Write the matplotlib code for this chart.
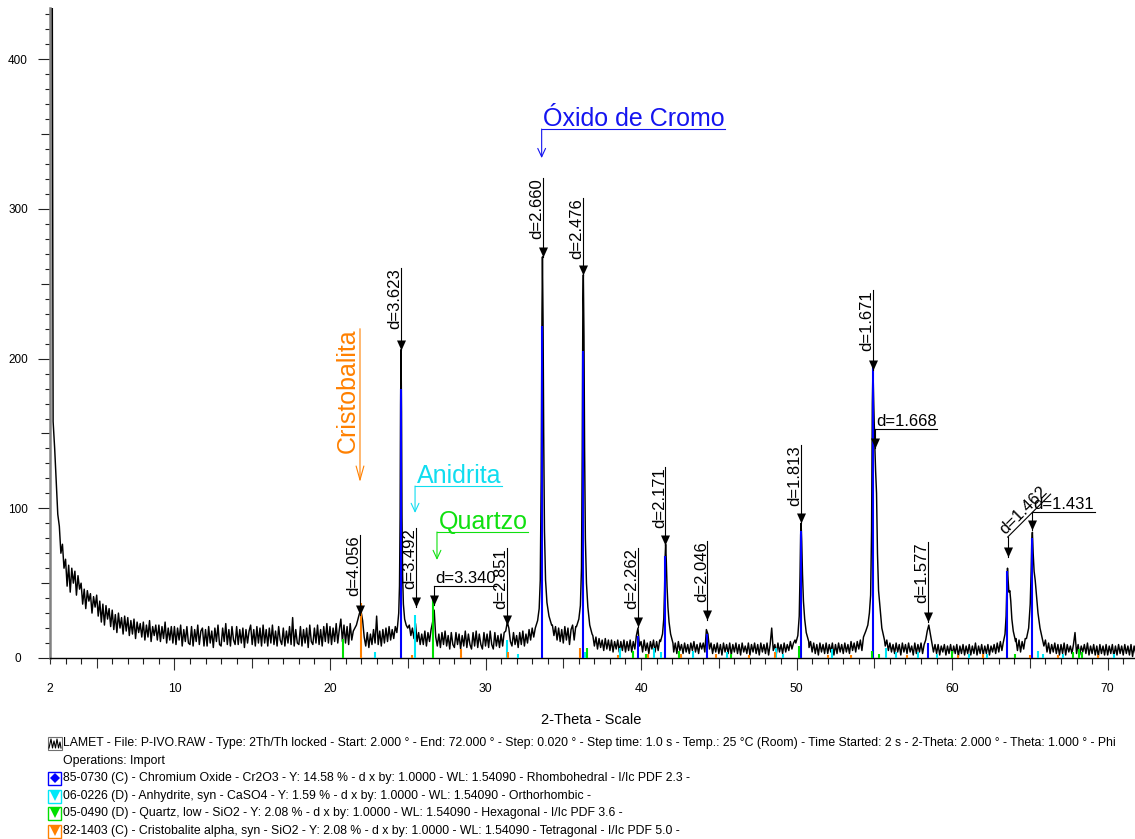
import numpy as np
import matplotlib
matplotlib.use('Agg')
import matplotlib.pyplot as plt
from matplotlib.patches import Rectangle
from matplotlib.lines import Line2D
from matplotlib.font_manager import FontProperties

plt.rcParams['font.family'] = ['Liberation Sans', 'DejaVu Sans']

W, H = 1135, 839

# ---------------- data ----------------
scan_start = 2.0
scan_step = 0.1
scan_counts = [
    1200, 700, 158, 140, 118, 96, 88, 70, 76, 60,
    66, 48, 62, 44, 60, 50, 58, 42, 55, 46,
    50, 36, 46, 33, 45, 38, 43, 30, 41, 34,
    42, 28, 38, 24, 36, 22, 35, 26, 33, 21,
    32, 19, 29, 17, 30, 20, 27, 16, 28, 18,
    27, 15, 25, 16, 26, 13, 24, 17, 23, 14,
    24, 12, 22, 14, 25, 11, 21, 15, 22, 12,
    22, 11, 21, 13, 24, 10, 20, 12, 21, 10,
    21, 9, 20, 12, 22, 8, 19, 11, 21, 10,
    9, 21, 8, 19, 11, 22, 9, 18, 20, 8,
    19, 8, 21, 10, 18, 7, 20, 11, 22, 9,
    8, 20, 11, 23, 9, 19, 8, 21, 12, 9,
    21, 9, 19, 10, 20, 7, 19, 10, 18, 22,
    9, 19, 8, 21, 10, 20, 8, 22, 10, 19,
    8, 20, 10, 22, 9, 18, 8, 21, 12, 9,
    20, 8, 18, 10, 21, 9, 27, 8, 19, 10,
    9, 21, 8, 19, 10, 20, 7, 22, 11, 9,
    20, 10, 22, 9, 19, 8, 21, 11, 23, 10,
    21, 9, 20, 11, 23, 10, 19, 26, 11, 22,
    10, 21, 9, 23, 12, 18, 20, 22, 26, 30,
    31, 25, 14, 8, 17, 7, 16, 9, 19, 10,
    28, 9, 18, 8, 19, 10, 20, 11, 21, 12,
    19, 13, 21, 17, 40, 60, 150, 40, 30, 25,
    20, 22, 15, 20, 13, 23, 11, 17, 9, 16,
    9, 18, 8, 17, 11, 19, 24, 32, 14, 8,
    16, 7, 17, 9, 18, 8, 15, 6, 17, 9,
    7, 17, 9, 16, 6, 15, 8, 18, 7, 16,
    9, 6, 17, 8, 18, 7, 16, 9, 6, 17,
    8, 16, 7, 18, 9, 6, 17, 8, 15, 7,
    16, 8, 17, 18, 24, 20, 11, 8, 17, 9,
    15, 7, 17, 9, 18, 8, 16, 10, 19, 12,
    20, 14, 16, 20, 22, 26, 270, 60, 30, 25,
    30, 25, 22, 22, 15, 21, 12, 20, 11, 19,
    10, 21, 12, 20, 9, 19, 22, 12, 21, 19,
    22, 27, 40, 256, 60, 28, 18, 15, 12, 15,
    8, 14, 6, 13, 7, 12, 5, 13, 6, 12,
    5, 12, 4, 11, 6, 12, 4, 11, 5, 12,
    4, 11, 5, 12, 4, 11, 6, 15, 20, 8,
    11, 4, 12, 5, 10, 3, 11, 6, 12, 4,
    11, 5, 12, 20, 30, 76, 30, 18, 12, 10,
    9, 4, 10, 3, 11, 5, 9, 3, 10, 4,
    9, 3, 10, 5, 11, 4, 9, 3, 10, 6,
    10, 4, 19, 16, 6, 10, 3, 9, 4, 10,
    3, 9, 2, 10, 4, 9, 3, 10, 2, 9,
    4, 10, 3, 9, 2, 10, 4, 8, 3, 10,
    2, 9, 4, 10, 3, 9, 2, 10, 4, 9,
    3, 10, 2, 9, 20, 5, 9, 3, 10, 4,
    9, 3, 10, 4, 9, 5, 11, 6, 10, 12,
    9, 12, 60, 92, 50, 22, 14, 11, 7, 11,
    4, 10, 3, 9, 2, 10, 4, 9, 3, 10,
    3, 9, 4, 10, 2, 9, 3, 10, 4, 9,
    3, 10, 4, 9, 3, 11, 5, 10, 4, 11,
    6, 12, 5, 13, 15, 18, 22, 30, 90, 190,
    142, 60, 35, 25, 18, 14, 12, 8, 12, 5,
    10, 4, 9, 3, 10, 4, 9, 2, 10, 4,
    9, 3, 10, 4, 8, 2, 10, 3, 9, 4,
    10, 3, 9, 12, 18, 22, 16, 10, 4, 9,
    3, 9, 2, 8, 4, 9, 2, 8, 3, 9,
    2, 8, 3, 9, 1, 8, 3, 9, 2, 8,
    3, 9, 2, 8, 3, 10, 2, 8, 3, 9,
    2, 8, 3, 9, 2, 8, 4, 9, 3, 10,
    4, 11, 5, 10, 15, 35, 48, 42, 25, 18,
    12, 13, 5, 12, 4, 11, 6, 13, 8, 15,
    40, 82, 55, 48, 38, 25, 18, 14, 11, 8,
    12, 4, 10, 3, 9, 4, 10, 3, 9, 2,
    9, 3, 10, 2, 9, 4, 8, 3, 9, 17,
    3, 9, 2, 8, 4, 9, 3, 10, 2, 8,
    3, 9, 2, 8, 1, 9, 3, 8, 2, 9,
    2, 8, 3, 9, 1, 8, 2, 9, 3, 8,
    2, 9, 3, 8, 2, 9, 1, 8, 3, 7,
]

# finer profile points read across the main reflections
peak_theta = [
    [24.35, 24.42, 24.47, 24.51, 24.54, 24.57, 24.60, 24.63, 24.67, 24.72, 24.80, 24.90, 25.00],
    [33.20, 33.35, 33.45, 33.52, 33.58, 33.63, 33.66, 33.70, 33.74, 33.79, 33.86, 33.95, 34.08, 34.25],
    [35.85, 36.00, 36.10, 36.17, 36.22, 36.26, 36.29, 36.33, 36.37, 36.42, 36.49, 36.58, 36.70, 36.85],
    [41.25, 41.38, 41.46, 41.51, 41.55, 41.58, 41.62, 41.67, 41.73, 41.80, 41.90, 42.05],
    [49.95, 50.08, 50.17, 50.22, 50.26, 50.29, 50.33, 50.38, 50.44, 50.52, 50.62, 50.78],
    [54.30, 54.45, 54.58, 54.68, 54.76, 54.82, 54.87, 54.91, 54.96, 55.02, 55.08, 55.14, 55.20, 55.27, 55.36, 55.48, 55.65],
    [63.28, 63.40, 63.47, 63.52, 63.56, 63.60, 63.65, 63.71, 63.77, 63.84, 63.93, 64.08],
    [64.78, 64.92, 65.02, 65.08, 65.12, 65.16, 65.21, 65.27, 65.34, 65.42, 65.52, 65.65, 65.82],
]
peak_counts = [
    [22, 30, 48, 95, 170, 206, 165, 95, 55, 36, 26, 22, 20],
    [20, 25, 33, 52, 120, 230, 268, 225, 150, 85, 52, 37, 28, 22],
    [21, 26, 35, 60, 140, 240, 256, 215, 140, 80, 50, 34, 22, 16],
    [11, 16, 26, 45, 68, 76, 66, 48, 34, 24, 16, 10],
    [10, 15, 28, 55, 82, 90, 78, 56, 38, 26, 17, 11],
    [14, 18, 22, 30, 42, 85, 170, 194, 170, 145, 125, 110, 70, 45, 34, 20, 12],
    [10, 16, 28, 48, 60, 52, 44, 45, 38, 26, 18, 11],
    [13, 20, 36, 58, 78, 84, 70, 58, 52, 42, 30, 20, 12],
]

# reference patterns (stick lines)
cr2o3_theta = [24.55, 33.64, 36.25, 39.80, 41.55, 44.25, 50.27, 54.90, 58.45, 63.55, 65.15]
cr2o3_h = [180, 222, 205, 15, 68, 16, 85, 195, 10, 58, 80]
anhy_theta = [22.90, 25.45, 31.40, 32.10, 36.40, 38.65, 40.85, 41.30, 43.35, 45.50, 48.65,
              49.10, 52.30, 55.75, 56.40, 57.80, 59.00, 61.10, 62.25, 65.55, 65.85, 67.10, 70.40]
anhy_h = [4, 29, 12, 3, 4, 7, 7, 4, 5, 4, 7, 3, 6, 7, 4, 4, 3, 3, 3, 5, 3, 3, 3]
quartz_theta = [20.86, 26.64, 36.55, 39.47, 40.30, 42.45, 45.80, 50.14, 54.87, 55.33,
                59.96, 64.03, 67.74, 68.14, 68.32]
quartz_h = [13, 39, 7, 5, 3, 5, 3, 8, 5, 3, 5, 3, 4, 6, 4]
cristo_theta = [22.00, 25.30, 28.45, 31.45, 36.08, 38.50, 40.45, 42.60, 44.80, 46.95, 48.60,
                52.00, 53.50, 57.10, 60.40, 62.00, 65.00, 66.80, 69.40]
cristo_h = [37, 2, 6, 4, 7, 2, 3, 3, 3, 2, 4, 2, 2, 2, 2, 3, 2, 2, 2]

# d-spacing labels
d_labels = ['d=4.056', 'd=3.623', 'd=3.492', 'd=3.340', 'd=2.851', 'd=2.660', 'd=2.476',
            'd=2.262', 'd=2.171', 'd=2.046', 'd=1.813', 'd=1.671', 'd=1.668', 'd=1.577',
            'd=1.462', 'd=1.431']
d_theta = [21.95, 24.57, 25.52, 26.67, 31.40, 33.67, 36.25, 39.81, 41.57, 44.27, 50.28,
           54.90, 55.02, 58.47, 63.57, 65.13]
d_tip = [28.7, 206.0, 34.1, 35.4, 22.0, 268.0, 256.0, 20.7, 75.5, 25.4, 90.2, 192.4,
         140.3, 24.1, 67.5, 85.5]
d_top = [82.2, 260.6, 86.9, 48.1, 73.5, 320.7, 307.3, 73.5, 127.6, 78.2, 142.3, 245.9,
         153.0, 77.5, 80.8, 97.5]
d_style = ['v', 'v', 'v', 'h', 'v', 'v', 'v', 'v', 'v', 'v', 'v', 'v', 'h', 'v', 'd', 'h']

# phase names
phase_names = ['Óxido de Cromo', 'Cristobalita', 'Anidrita', 'Quartzo']
phase_theta = [33.61, 21.93, 25.47, 26.88]
phase_top = [353.4, 220.0, 114.9, 84.2]
phase_tip = [334.0, 117.6, 96.9, 65.5]
phase_rot = [0, 90, 0, 0]
phase_colors = ['#1414F0', '#FF8000', '#10DDF0', '#10E010']

legend_lines = [
    'LAMET - File: P-IVO.RAW - Type: 2Th/Th locked - Start: 2.000 ° - End: 72.000 ° - Step: 0.020 ° - Step time: 1.0 s - Temp.: 25 °C (Room) - Time Started: 2 s - 2-Theta: 2.000 ° - Theta: 1.000 ° - Phi',
    'Operations: Import',
    '85-0730 (C) - Chromium Oxide - Cr2O3 - Y: 14.58 % - d x by: 1.0000 - WL: 1.54090 - Rhombohedral - I/Ic PDF 2.3 -',
    '06-0226 (D) - Anhydrite, syn - CaSO4 - Y: 1.59 % - d x by: 1.0000 - WL: 1.54090 - Orthorhombic -',
    '05-0490 (D) - Quartz, low - SiO2 - Y: 2.08 % - d x by: 1.0000 - WL: 1.54090 - Hexagonal - I/Ic PDF 3.6 -',
    '82-1403 (C) - Cristobalite alpha, syn - SiO2 - Y: 2.08 % - d x by: 1.0000 - WL: 1.54090 - Tetragonal - I/Ic PDF 5.0 -',
]

# ---------------- figure ----------------
PT = 0.72  # points per pixel at 100 dpi
fig = plt.figure(figsize=(W / 100, H / 100), dpi=100)
fig.patch.set_facecolor('white')
ax = fig.add_axes([50 / W, 1 - 658 / H, (W - 50) / W, (658 - 8) / H])

# merge scan with fine profiles
bg_theta = scan_start + scan_step * np.arange(len(scan_counts))
bg_counts = np.array(scan_counts, dtype=float)
keep = np.ones(len(bg_theta), dtype=bool)
for th in peak_theta:
    keep &= ~((bg_theta >= th[0] - 1e-6) & (bg_theta <= th[-1] + 1e-6))
all_theta = np.concatenate([bg_theta[keep]] + [np.array(t) for t in peak_theta])
all_counts = np.concatenate([bg_counts[keep]] + [np.array(c, dtype=float) for c in peak_counts])
order = np.argsort(all_theta)
ax.plot(all_theta[order], all_counts[order], color='black', lw=1.05, zorder=3)

# sticks
for th, hh, col in [(cr2o3_theta, cr2o3_h, '#0000FF'), (anhy_theta, anhy_h, '#00E8F8'),
                    (quartz_theta, quartz_h, '#00E000'), (cristo_theta, cristo_h, '#FF8000')]:
    ax.vlines(th, 0, hh, colors=col, lw=1.5, zorder=4)

# axes styling
for s in ['top', 'right']:
    ax.spines[s].set_visible(False)
ax.spines['left'].set_color('#808080')
ax.spines['left'].set_linewidth(1.8)
ax.spines['bottom'].set_color('black')
ax.spines['bottom'].set_linewidth(1.0)

xmaj = [2] + [v for v in range(5, 71, 5)]
ax.set_xticks(xmaj)
ax.set_xticklabels([str(v) if (v == 2 or v % 10 == 0) else '' for v in xmaj])
ax.set_xticks([v for v in range(3, 72) if v not in xmaj], minor=True)
ax.tick_params(axis='x', which='major', length=12 * PT, width=0.8, color='#303030', pad=9,
               labelsize=8.7, direction='out')
ax.tick_params(axis='x', which='minor', length=5.5 * PT, width=0.8, color='#202020',
               direction='out')

ymaj = list(range(0, 451, 50))
ax.set_yticks(ymaj)
ax.set_yticklabels([str(v) if v % 100 == 0 else '' for v in ymaj])
ax.set_yticks([v for v in range(10, 440, 10) if v % 50], minor=True)
ax.tick_params(axis='y', which='major', length=12 * PT, width=0.8, color='#202020',
               pad=20 * PT, labelsize=8.5, direction='out')
ax.tick_params(axis='y', which='minor', length=5.5 * PT, width=0.8, color='#202020',
               direction='out')

ax.set_xlim(2, 2 + (W - 50) / 15.554)
ax.set_ylim(0, 650 / 1.4968)

for t, v in zip(ax.xaxis.get_major_ticks(), xmaj):
    if v == 2:
        t.tick1line.set_markersize(5.5 * PT)
    elif v % 10:
        t.tick1line.set_markersize(10 * PT)
for t, v in zip(ax.yaxis.get_major_ticks(), ymaj):
    if v % 100:
        t.tick1line.set_markersize(9 * PT)
for lab in ax.get_yticklabels():
    lab.set_horizontalalignment('center')

fig.text(591 / W, 1 - 720 / H, '2-Theta - Scale', ha='center', va='center', fontsize=10.5)

# d-spacing labels
tri = [(0, 0), (-0.45, 1), (0.45, 1), (0, 0)]
renderer = fig.canvas.get_renderer()
fp12 = FontProperties(family=['Liberation Sans', 'DejaVu Sans'], size=12)
inv = ax.transData.inverted()
for lab, th, tip, top, sty in zip(d_labels, d_theta, d_tip, d_top, d_style):
    ax.plot([th], [tip], marker=tri, ms=14.4, mew=0, color='black', zorder=6)
    ax.plot([th, th], [top, tip], color='black', lw=0.8, zorder=6)
    if sty == 'v':
        ax.annotate(lab, xy=(th, top), xytext=(1, 0), textcoords='offset points',
                    rotation=90, ha='right', va='top', fontsize=12, zorder=7)
    elif sty == 'h':
        ax.annotate(lab, xy=(th, top), xytext=(1, 2), textcoords='offset points',
                    ha='left', va='baseline', fontsize=12, zorder=7)
        w, h_, d_ = renderer.get_text_width_height_descent(lab, fp12, ismath=False)
        x0, y0 = ax.transData.transform((th, top))
        xe = inv.transform((x0 + w + 2, y0))[0]
        ax.plot([th, xe], [top, top], color='black', lw=0.8, zorder=6)
    else:
        ax.annotate(lab, xy=(th, top), xytext=(-1.5, 1.5), textcoords='offset points',
                    rotation=45, rotation_mode='anchor', ha='left', va='baseline',
                    fontsize=12, zorder=7)
        w, h_, d_ = renderer.get_text_width_height_descent(lab, fp12, ismath=False)
        x0, y0 = ax.transData.transform((th, top))
        xe, ye = inv.transform((x0 + w * 0.7071, y0 + w * 0.7071))
        ax.plot([th, xe], [top, ye], color='black', lw=0.8, zorder=6)

# phase names
fp18 = FontProperties(family=['Liberation Sans', 'DejaVu Sans'], size=18)
for name, th, top, tip, rot, col in zip(phase_names, phase_theta, phase_top, phase_tip,
                                        phase_rot, phase_colors):
    if rot == 90:
        ax.annotate(name, xy=(th, top), rotation=90, ha='right', va='top', fontsize=18,
                    color=col, zorder=7)
        hl = 1.0
    else:
        ax.annotate(name, xy=(th, top), xytext=(1.2, 2.3), textcoords='offset points',
                    ha='left', va='baseline', fontsize=18, color=col, zorder=7)
        w, h_, d_ = renderer.get_text_width_height_descent(name, fp18, ismath=False)
        x0, y0 = ax.transData.transform((th, top))
        xe = inv.transform((x0 + w + 2, y0))[0]
        ax.plot([th, xe], [top, top], color=col, lw=0.8, zorder=6)
        hl = 0.6
    ax.annotate('', xy=(th, tip), xytext=(th, top),
                arrowprops=dict(arrowstyle='->,head_length=%g,head_width=0.28' % hl,
                                color=col, lw=0.8, shrinkA=0, shrinkB=0), zorder=6)

# legend block
def fx(p):
    return p / W

def fy(p):
    return 1 - p / H

legend_y = [743, 761, 778, 796, 813, 831]
for txt, y in zip(legend_lines, legend_y):
    fig.text(fx(63), fy(y), txt, ha='left', va='center', fontsize=8.85)

# scan icon
fig.add_artist(Rectangle((fx(48), fy(750)), 14 / W, 13 / H, transform=fig.transFigure,
                         facecolor='white', edgecolor='#707070', lw=0.8))
zz_x = [49, 51, 52.5, 54, 55.5, 57, 58.5, 60, 61]
zz_y = [748, 739, 748, 741, 748, 739, 748, 742, 748]
fig.add_artist(Line2D([fx(v) for v in zz_x], [fy(v) for v in zz_y], transform=fig.transFigure,
                      color='black', lw=0.8))

icon_cols = ['#0000FF', '#00E8F8', '#00E000', '#FF8000']
icon_marks = ['D', 'v', 'v', 'v']
for col, mk, y in zip(icon_cols, icon_marks, legend_y[2:]):
    fig.add_artist(Rectangle((fx(48), fy(y + 6.5)), 13 / W, 13 / H, transform=fig.transFigure,
                             facecolor='white', edgecolor=col, lw=1.0))
    fig.add_artist(Line2D([fx(54.5)], [fy(y)], transform=fig.transFigure, marker=mk,
                          ms=5.5 if mk == 'D' else 7, color=col, mew=0))

fig.savefig('out.png', dpi=100, facecolor='white')
